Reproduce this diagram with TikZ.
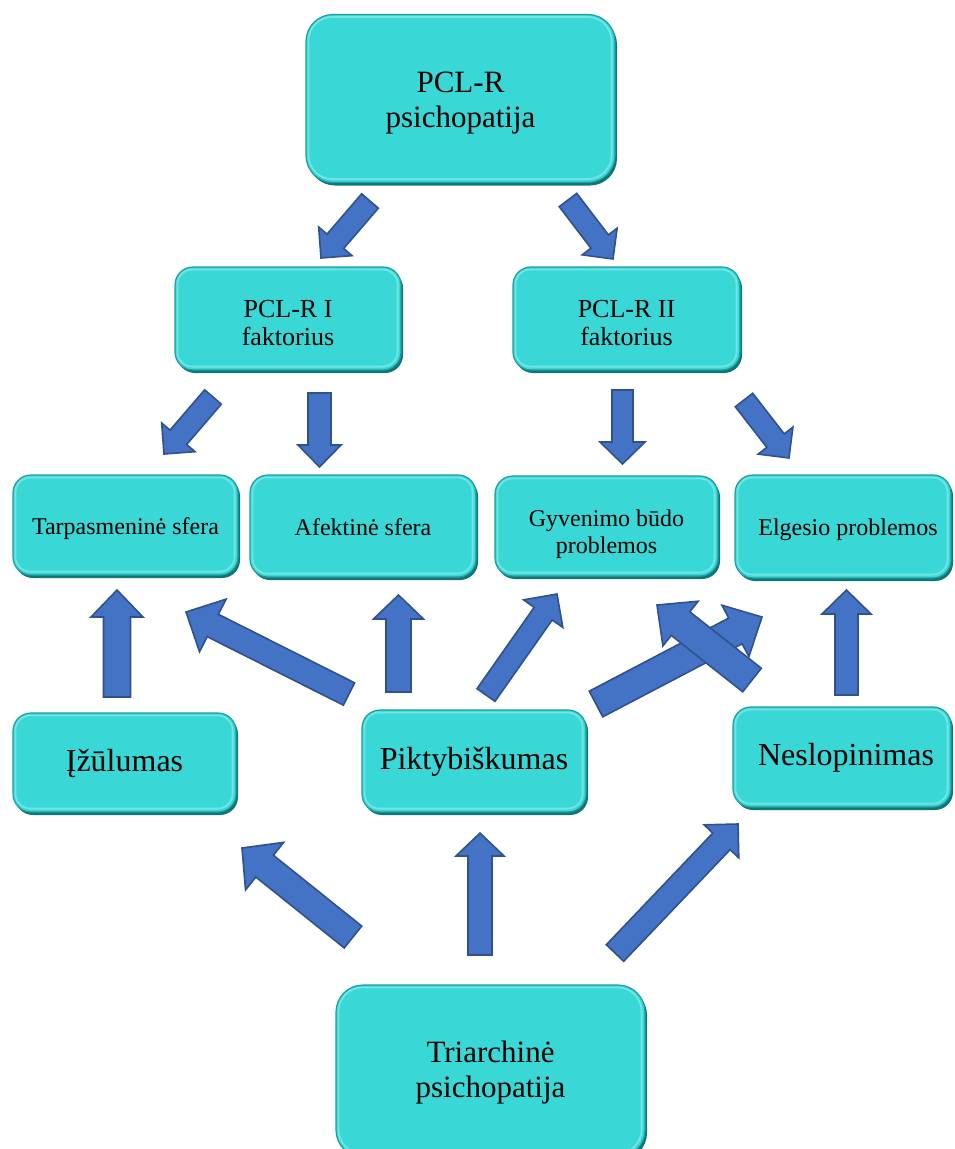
\documentclass[tikz,border=0pt]{standalone}
\usepackage{fontspec}
\setmainfont{Liberation Serif}
\usetikzlibrary{calc}
\definecolor{boxfill}{HTML}{3AD7D7}
\definecolor{boxedge}{HTML}{1E9E9E}
\definecolor{boxshade}{HTML}{127575}
\definecolor{boxlight}{HTML}{9BF2F2}
\definecolor{arrfill}{HTML}{4472C4}
\definecolor{arredge}{HTML}{2F528F}
\tikzset{
  box/.style={rounded corners=18pt, fill=boxfill, draw=boxedge, line width=1.2pt,
    align=center, inner sep=0pt,
    preaction={fill=boxshade, transform canvas={xshift=2pt,yshift=-3pt}}},
  bigbox/.style={box, rounded corners=27pt},
  fbig/.style={font=\fontsize{31}{35}\selectfont, align=center},
  fmid/.style={font=\fontsize{26}{28}\selectfont, align=center},
  fsmall/.style={font=\fontsize{24}{27}\selectfont, align=center},
  onesmall/.style={fsmall, text height=22pt, text depth=4pt},
  flarge/.style={font=\fontsize{32}{36}\selectfont, text height=21pt, text depth=4pt},
  rim/.style={draw=boxlight, line width=1.8pt, opacity=0.55},
  arrowst/.style={fill=arrfill, draw=arredge, line width=1.6pt, line join=miter}
}
\newcommand\bevel[2]{%
  \draw[rim, rounded corners=#2] ([xshift=3pt,yshift=-3pt]#1.north west) rectangle ([xshift=-4pt,yshift=4pt]#1.south east);
}
\newcommand\blockarrow[5]{%
  \coordinate (ba-h) at ($(#2)!#5!(#1)$);
  \filldraw[arrowst] ($(#1)!#3!90:(#2)$) -- ($(ba-h)!#3!-90:(#1)$) -- ($(ba-h)!#4!-90:(#1)$)
    -- (#2) -- ($(ba-h)!#4!90:(#1)$) -- ($(ba-h)!#3!90:(#1)$) -- ($(#1)!#3!-90:(#2)$) -- cycle;
}
\begin{document}
\begin{tikzpicture}[x=1pt,y=-1pt]
\useasboundingbox (0,0) rectangle (955,1149);
% boxes
\node[bigbox, minimum width=309pt, minimum height=168pt,
  label={[fbig,yshift=-5pt]center:PCL-R\\psichopatija}] (pclr) at (460.5,98.5) {};
\node[box, minimum width=226pt, minimum height=103pt,
  label={[fmid,yshift=-5pt]center:PCL-R I\\faktorius}] (f1) at (288,318.5) {};
\node[box, minimum width=227pt, minimum height=103pt,
  label={[fmid,yshift=-5pt]center:PCL-R II\\faktorius}] (f2) at (626.5,318.5) {};
\node[box, onesmall, minimum width=225pt, minimum height=100pt] (tarp) at (125.5,525) {Tarpasmeninė sfera};
\node[box, onesmall, minimum width=226pt, minimum height=102pt] (afek) at (363,526) {Afektinė sfera};
\node[box, minimum width=223pt, minimum height=100pt,
  label={[fsmall,yshift=-8pt]center:Gyvenimo būdo\\problemos}] (gyv) at (606.5,526) {};
\node[box, minimum width=216pt, minimum height=103pt,
  label={[onesmall,xshift=5pt]center:Elgesio problemos}] (elg) at (843,526.5) {};
\node[box, flarge, minimum width=223pt, minimum height=99pt] (izu) at (124.5,762.5) {Įžūlumas};
\node[box, flarge, minimum width=224pt, minimum height=102pt] (pik) at (474,761) {Piktybiškumas};
\node[box, minimum width=218pt, minimum height=100pt,
  label={[flarge,xshift=4pt]center:Neslopinimas}] (nes) at (842,757) {};
\node[bigbox, minimum width=309pt, minimum height=172pt,
  label={[fbig,yshift=-2pt]center:Triarchinė\\psichopatija}] (tri) at (490.5,1071) {};
\bevel{pclr}{24pt}
\bevel{f1}{15pt}
\bevel{f2}{15pt}
\bevel{tarp}{15pt}
\bevel{afek}{15pt}
\bevel{gyv}{15pt}
\bevel{elg}{15pt}
\bevel{izu}{15pt}
\bevel{pik}{15pt}
\bevel{nes}{15pt}
\bevel{tri}{24pt}
% arrow end points
\coordinate (a1t) at (370,201);   \coordinate (a1h) at (321,258);
\coordinate (a2t) at (568,200);   \coordinate (a2h) at (613,259);
\coordinate (a3t) at (213,397);   \coordinate (a3h) at (164,454);
\coordinate (a4t) at (319.5,393); \coordinate (a4h) at (319.5,467);
\coordinate (a5t) at (622.5,390); \coordinate (a5h) at (622.5,464);
\coordinate (a6t) at (744,400);   \coordinate (a6h) at (789,458);
\coordinate (a7t) at (117,697);   \coordinate (a7h) at (117,590);
\coordinate (a8t) at (349,694);   \coordinate (a8h) at (186,612);
\coordinate (a9t) at (398.5,692); \coordinate (a9h) at (398.5,595);
\coordinate (a10t) at (486,695);  \coordinate (a10h) at (557,594);
\coordinate (a11t) at (596,704);  \coordinate (a11h) at (762,617);
\coordinate (a12t) at (752,680);  \coordinate (a12h) at (657,605);
\coordinate (a13t) at (846.5,695);\coordinate (a13h) at (846.5,590);
\coordinate (a14t) at (353,937);  \coordinate (a14h) at (242,848);
\coordinate (a15t) at (480,955);  \coordinate (a15h) at (480,833);
\coordinate (a16t) at (615,953);  \coordinate (a16h) at (738,824);
% arrows
\blockarrow{a1t}{a1h}{11pt}{22pt}{22pt}
\blockarrow{a2t}{a2h}{11pt}{22pt}{22pt}
\blockarrow{a3t}{a3h}{11pt}{22pt}{22pt}
\blockarrow{a4t}{a4h}{11.5pt}{21.5pt}{22pt}
\blockarrow{a5t}{a5h}{10.5pt}{22.5pt}{22pt}
\blockarrow{a6t}{a6h}{11pt}{22pt}{22pt}
\blockarrow{a7t}{a7h}{13.5pt}{26pt}{27pt}
\blockarrow{a8t}{a8h}{12.5pt}{29.5pt}{30pt}
\blockarrow{a9t}{a9h}{12.5pt}{25pt}{24pt}
\blockarrow{a10t}{a10h}{11pt}{24pt}{24pt}
\blockarrow{a11t}{a11h}{14.5pt}{29pt}{30pt}
\blockarrow{a12t}{a12h}{15pt}{28.5pt}{30pt}
\blockarrow{a13t}{a13h}{11.5pt}{24.5pt}{24pt}
\blockarrow{a14t}{a14h}{14pt}{30.5pt}{29pt}
\blockarrow{a15t}{a15h}{12pt}{24pt}{23pt}
\blockarrow{a16t}{a16h}{12pt}{24pt}{24pt}
\end{tikzpicture}
\end{document}
